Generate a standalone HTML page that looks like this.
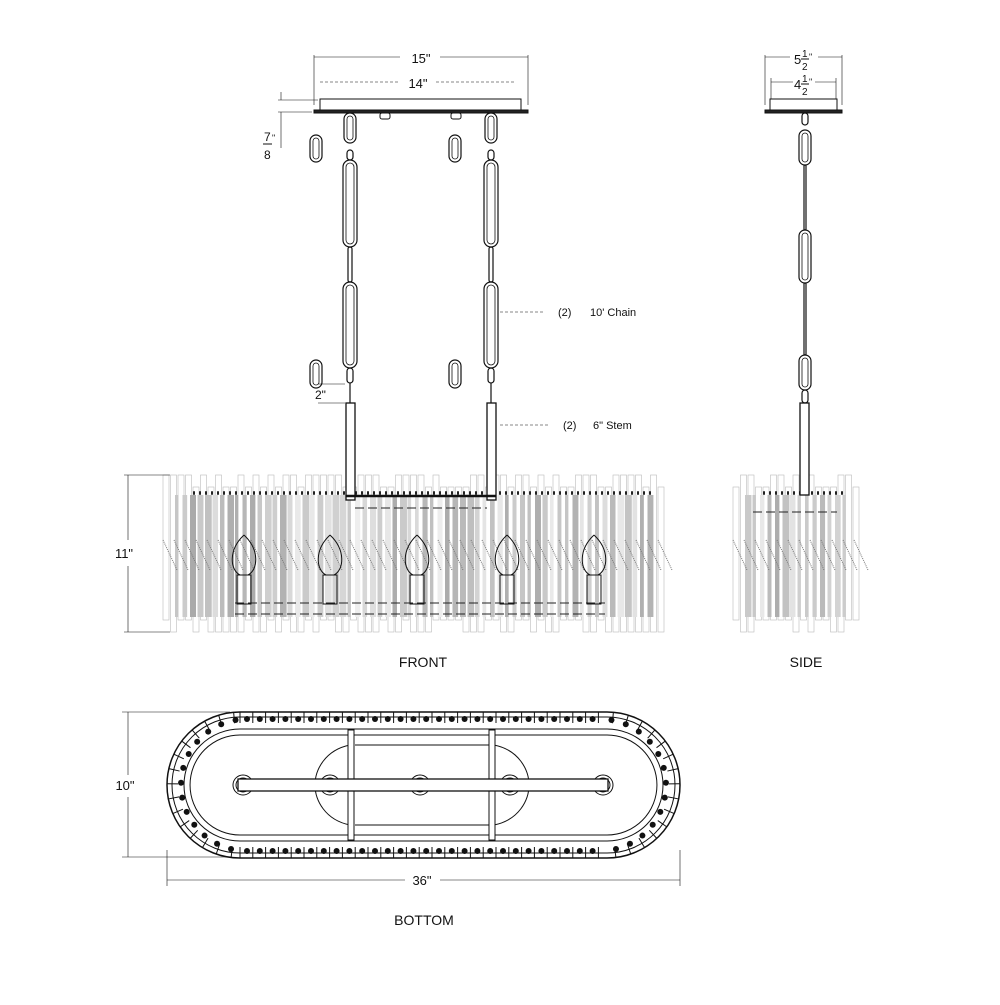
<!DOCTYPE html>
<html><head><meta charset="utf-8"><style>
html,body{margin:0;padding:0;background:#fff;}
svg text{font-family:"Liberation Sans",sans-serif;fill:#111;}
</style></head><body>
<svg id="s" width="1000" height="1000" viewBox="0 0 1000 1000" xmlns="http://www.w3.org/2000/svg">
<g id="bars"></g>
<g fill="none" stroke="#111" stroke-width="1">
<rect x="320" y="99" width="201" height="11" fill="#fff"/>
<rect x="314" y="110" width="214" height="3" fill="#222"/>
<rect x="380" y="113" width="10" height="6" rx="2"/>
<rect x="451" y="113" width="10" height="6" rx="2"/>
<line x1="314" y1="55" x2="314" y2="105" stroke-width=".6"/>
<line x1="528" y1="55" x2="528" y2="105" stroke-width=".6"/>
<line x1="314" y1="57" x2="400" y2="57" stroke-width=".6"/><line x1="440" y1="57" x2="528" y2="57" stroke-width=".6"/>
<line x1="320" y1="82" x2="400" y2="82" stroke-width=".6" stroke-dasharray="3 2"/><line x1="436" y1="82" x2="516" y2="82" stroke-width=".6" stroke-dasharray="3 2"/>
<line x1="278" y1="100" x2="318" y2="100" stroke-width=".6"/><line x1="278" y1="112" x2="312" y2="112" stroke-width=".6"/>
<line x1="281" y1="92" x2="281" y2="100" stroke-width=".6"/><line x1="281" y1="112" x2="281" y2="148" stroke-width=".6"/>
<rect x="770" y="99" width="67" height="11" fill="#fff"/>
<rect x="765" y="110" width="77" height="3" fill="#222"/>
<line x1="765" y1="55" x2="765" y2="105" stroke-width=".6"/><line x1="842" y1="55" x2="842" y2="105" stroke-width=".6"/>
<line x1="765" y1="57" x2="790" y2="57" stroke-width=".6"/><line x1="818" y1="57" x2="842" y2="57" stroke-width=".6"/>
<line x1="771" y1="82" x2="793" y2="82" stroke-width=".6"/><line x1="815" y1="82" x2="836" y2="82" stroke-width=".6"/>
<line x1="771" y1="78" x2="771" y2="99" stroke-width=".6"/><line x1="836" y1="78" x2="836" y2="99" stroke-width=".6"/>
<line x1="500" y1="312" x2="545" y2="312" stroke-width=".6" stroke-dasharray="3 2"/>
<line x1="500" y1="425" x2="550" y2="425" stroke-width=".6" stroke-dasharray="3 2"/>
<line x1="124" y1="475" x2="170" y2="475" stroke-width=".6"/><line x1="124" y1="632" x2="170" y2="632" stroke-width=".6"/>
<line x1="128" y1="475" x2="128" y2="540" stroke-width=".6"/><line x1="128" y1="566" x2="128" y2="632" stroke-width=".6"/>
<line x1="318" y1="384" x2="345" y2="384" stroke-width=".6"/><line x1="318" y1="403" x2="345" y2="403" stroke-width=".6"/>
<rect x="346" y="403" width="9" height="97" fill="#fff" stroke-width="1.3"/>
<rect x="487" y="403" width="9" height="97" fill="#fff" stroke-width="1.3"/>
<line x1="346" y1="496" x2="496" y2="496" stroke-width="2.5"/>
<rect x="800" y="403" width="9" height="92" fill="#fff" stroke-width="1.3"/>
<line x1="122" y1="712" x2="230" y2="712" stroke-width=".6"/><line x1="122" y1="857" x2="230" y2="857" stroke-width=".6"/>
<line x1="128" y1="712" x2="128" y2="775" stroke-width=".6"/><line x1="128" y1="797" x2="128" y2="857" stroke-width=".6"/>
<line x1="167" y1="850" x2="167" y2="886" stroke-width=".6"/><line x1="680" y1="850" x2="680" y2="886" stroke-width=".6"/>
<line x1="167" y1="880" x2="405" y2="880" stroke-width=".6"/><line x1="440" y1="880" x2="680" y2="880" stroke-width=".6"/>
</g>
<g id="chains" fill="none" stroke="#111" stroke-width="1.2"></g>
<g id="bottom" fill="none" stroke="#111" stroke-width="1"></g>
<text x="421" y="63" font-size="13" text-anchor="middle">15"</text>
<text x="418" y="88" font-size="13" text-anchor="middle">14"</text>
<text x="264" y="141" font-size="12">7</text><line x1="263" y1="144" x2="272" y2="144" stroke="#111"/><text x="264" y="159" font-size="12">8</text><text x="272" y="141" font-size="9">"</text>
<text x="315" y="399" font-size="12">2"</text>
<text x="558" y="316" font-size="11">(2)</text><text x="590" y="316" font-size="11">10' Chain</text>
<text x="563" y="429" font-size="11">(2)</text><text x="593" y="429" font-size="11">6" Stem</text>
<text x="124" y="558" font-size="13" text-anchor="middle">11"</text>
<text x="125" y="790" font-size="13" text-anchor="middle">10"</text>
<text x="422" y="885" font-size="13" text-anchor="middle">36"</text>
<text x="423" y="667" font-size="14" text-anchor="middle">FRONT</text>
<text x="806" y="667" font-size="14" text-anchor="middle">SIDE</text>
<text x="424" y="925" font-size="14" text-anchor="middle">BOTTOM</text>
<text x="794" y="64" font-size="13">5</text><text x="802" y="57" font-size="10">1</text><line x1="801" y1="59" x2="809" y2="59" stroke="#111"/><text x="802" y="70" font-size="10">2</text><text x="809" y="60" font-size="9">"</text>
<text x="794" y="89" font-size="13">4</text><text x="802" y="82" font-size="10">1</text><line x1="801" y1="84" x2="809" y2="84" stroke="#111"/><text x="802" y="95" font-size="10">2</text><text x="809" y="85" font-size="9">"</text>
</svg>
<script>
var NS="http://www.w3.org/2000/svg";
function el(p,t,a){var e=document.createElementNS(NS,t);for(var k in a)e.setAttribute(k,a[k]);p.appendChild(e);return e;}
var bars=document.getElementById('bars');
var seed=7;function rnd(){seed=(seed*9301+49297)%233280;return seed/233280;}
function body(x0,x1,y0,y1,lamps){
  for(var x=x0;x<x1;x+=7.5){
    var top=y0+(rnd()<.5?0:12);
    el(bars,'rect',{x:x,y:top,width:6,height:y1-top-(rnd()<.5?0:12),fill:'none',stroke:'#bbb','stroke-width':.6});
  }
  for(var x=x0+12;x<x1-12;x+=7.5){
    var g=Math.floor(170+rnd()*70);
    el(bars,'rect',{x:x,y:y0+20,width:3+rnd()*4,height:y1-y0-35,fill:'rgb('+g+','+g+','+g+')'});
  }
  for(var x=x0;x<x1;x+=11){
    el(bars,'line',{x1:x,y1:y0+65,x2:x+14,y2:y0+95,stroke:'#777','stroke-width':1,'stroke-dasharray':'1 1'});
  }
  el(bars,'line',{x1:x0+30,y1:y0+18,x2:x1-10,y2:y0+18,stroke:'#222','stroke-width':3.5,'stroke-dasharray':'2 4'});
  if(lamps){
    el(bars,'line',{x1:355,y1:y0+33,x2:487,y2:y0+33,stroke:'#222','stroke-width':1,'stroke-dasharray':'9 4'});
    el(bars,'line',{x1:235,y1:603,x2:605,y2:603,stroke:'#222','stroke-width':1,'stroke-dasharray':'9 4'});
    el(bars,'line',{x1:235,y1:614,x2:605,y2:614,stroke:'#222','stroke-width':1,'stroke-dasharray':'9 4'});
    lamps.forEach(function(cx){
      el(bars,'path',{d:'M'+cx+' '+(y0+60)+' C'+(cx-16)+' '+(y0+75)+' '+(cx-14)+' '+(y0+95)+' '+(cx-4)+' '+(y0+100)+' L'+(cx+4)+' '+(y0+100)+' C'+(cx+14)+' '+(y0+95)+' '+(cx+16)+' '+(y0+75)+' '+cx+' '+(y0+60),fill:'none',stroke:'#111','stroke-width':1});
      el(bars,'rect',{x:cx-7,y:y0+100,width:14,height:29,fill:'none',stroke:'#111','stroke-width':1});
    });
  } else {
    el(bars,'line',{x1:x0+20,y1:y0+37,x2:x1-20,y2:y0+37,stroke:'#222','stroke-width':1,'stroke-dasharray':'9 4'});
  }
}
body(163,665,475,632,[244,330,417,507,594]);
body(733,857,475,632,null);
var ch=document.getElementById('chains');
function link(cx,y0,y1,w){el(ch,'rect',{x:cx-w/2,y:y0,width:w,height:y1-y0,rx:w/2});el(ch,'rect',{x:cx-w/2+3,y:y0+3,width:w-6,height:y1-y0-6,rx:w/2-3,'stroke-width':.8});}
function chain(cx,segs){segs.forEach(function(s){link(cx,s[0],s[1],s[2]);});}
[350,491].forEach(function(cx){
  chain(cx,[[113,143,12],[150,160,6],[160,247,14],[247,282,4],[282,368,14],[368,383,6]]);
  el(ch,'line',{x1:cx,y1:383,x2:cx,y2:403});
});
[316,455].forEach(function(cx){link(cx,135,162,12);link(cx,360,388,12);});
chain(805,[[113,125,6],[130,165,12],[165,230,2],[230,283,12],[283,355,2],[355,390,12],[390,403,6]]);
var b=document.getElementById('bottom');
function stadium(x0,y0,x1,y1,extra){var r=(y1-y0)/2;var a={d:'M'+(x0+r)+' '+y0+' H'+(x1-r)+' A'+r+' '+r+' 0 0 1 '+(x1-r)+' '+y1+' H'+(x0+r)+' A'+r+' '+r+' 0 0 1 '+(x0+r)+' '+y0+'Z'};for(var k in extra)a[k]=extra[k];return el(b,'path',a);}
stadium(167,712,680,858,{'stroke-width':1.5});
stadium(172,717,675,853,{});
stadium(184,729,663,841,{});
stadium(190,735,657,835,{});
var lx=240,rx=607,cy=785;
for(var x=lx;x<rx;x+=12.8){el(b,'line',{x1:x,y1:712,x2:x,y2:723});el(b,'line',{x1:x,y1:847,x2:x,y2:858});}
for(var a=-85;a<=85;a+=12){var t=a*Math.PI/180,c=Math.cos(t),s=Math.sin(t);
  el(b,'line',{x1:rx+62*c,y1:cy+62*s,x2:rx+73*c,y2:cy+73*s});
  el(b,'line',{x1:lx-62*c,y1:cy+62*s,x2:lx-73*c,y2:cy+73*s});}
var pts=[];var r=66,pl=247,pr=600;
for(var x=pl;x<=pr;x+=12.8){pts.push([x,cy-r]);pts.push([x,cy+r]);}
for(var a=-80;a<=80;a+=13){var t=a*Math.PI/180;pts.push([pr+r*Math.cos(t),cy+r*Math.sin(t)]);pts.push([pl-r*Math.cos(t),cy+r*Math.sin(t)]);}
pts.forEach(function(p){el(b,'circle',{cx:p[0],cy:p[1],r:3,fill:'#111',stroke:'none'});});
el(b,'path',{d:'M350 745 C325 750 315 770 315 785 C315 800 325 820 350 825'});
el(b,'path',{d:'M494 745 C519 750 529 770 529 785 C529 800 519 820 494 825'});
el(b,'line',{x1:355,y1:745,x2:490,y2:745});el(b,'line',{x1:355,y1:825,x2:490,y2:825});
el(b,'rect',{x:348,y:730,width:6,height:110,fill:'#fff'});
el(b,'rect',{x:489,y:730,width:6,height:110,fill:'#fff'});
[243,330,420,510,603].forEach(function(x){el(b,'circle',{cx:x,cy:785,r:10});el(b,'circle',{cx:x,cy:785,r:7});});
el(b,'rect',{x:238,y:779,width:370,height:12,fill:'#fff','stroke-width':1.3});
</script>
</body></html>
